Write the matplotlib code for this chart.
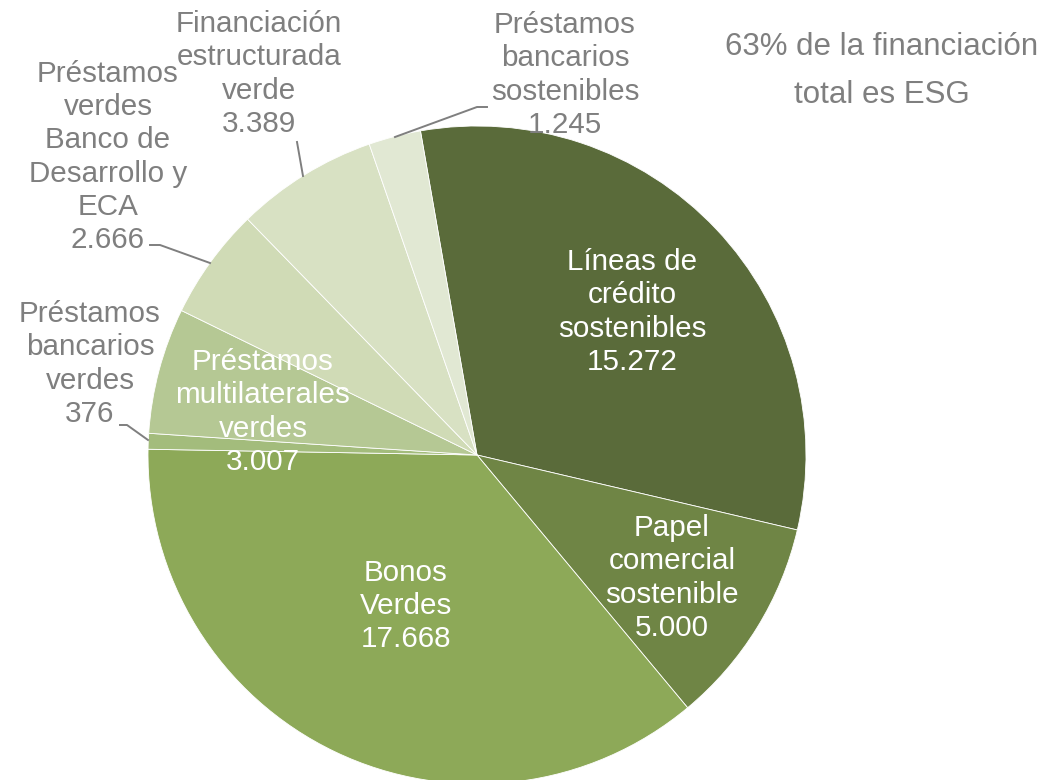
import matplotlib
matplotlib.use("Agg")
import matplotlib.pyplot as plt

plt.rcParams['font.family'] = ['Liberation Sans', 'DejaVu Sans']

# data
labels = ["Líneas de\ncrédito\nsostenibles", "Papel\ncomercial\nsostenible", "Bonos\nVerdes",
          "Préstamos\nbancarios\nverdes", "Préstamos\nmultilaterales\nverdes",
          "Préstamos\nverdes\nBanco de\nDesarrollo y\nECA", "Financiación\nestructurada\nverde",
          "Préstamos\nbancarios\nsostenibles"]
values = [15272, 5000, 17668, 376, 3007, 2666, 3389, 1245]
colors = ["#5a6b3a", "#6f8545", "#8da958", "#a3bc7c", "#b5c894", "#d0dbb6", "#d8e1c3", "#e1e8d3"]
title_txt = "63% de la financiación\ntotal es ESG"

W, H = 1048, 780
grey = "#7f7f7f"

fig = plt.figure(figsize=(W / 100, H / 100), dpi=100)
ax = fig.add_axes([0, 0, 1, 1])

cx, cy, R = 477, 455, 329
start = 99.9
wedges, _ = ax.pie(values, colors=colors, startangle=-start, counterclock=True,
                   center=(cx, cy), radius=R, frame=True,
                   wedgeprops=dict(edgecolor="white", linewidth=0.6))
ax.set_xlim(0, W)
ax.set_ylim(H, 0)
ax.axis("off")

def fmt(v):
    return f"{v:,}".replace(",", ".")

# label positions (pixel), inside labels white, outside grey
pos = [(632, 312, "white"), (672, 578, "white"), (406, 606, "white"),
       (90, 364, grey), (263, 412, "white"), (108, 157, grey),
       (259, 74, grey), (565, 75, grey)]
for lab, v, (x, y, c) in zip(labels, values, pos):
    ax.text(x, y, lab + "\n" + fmt(v), ha="center", va="center", color=c,
            fontsize=21.3, linespacing=1.24)

# leader lines
leaders = [
    [(395, 137), (477, 107), (487, 107)],
    [(303, 176), (297, 142)],
    [(210, 263), (160, 245), (150, 245)],
    [(148, 440), (127, 425), (120, 425)],
]
for seg in leaders:
    xs, ys = zip(*seg)
    ax.plot(xs, ys, color=grey, lw=1.4)

ax.text(882, 71, title_txt, ha="center", va="center", color=grey, fontsize=22.5,
        linespacing=1.75)

fig.savefig("out.png", dpi=100)
